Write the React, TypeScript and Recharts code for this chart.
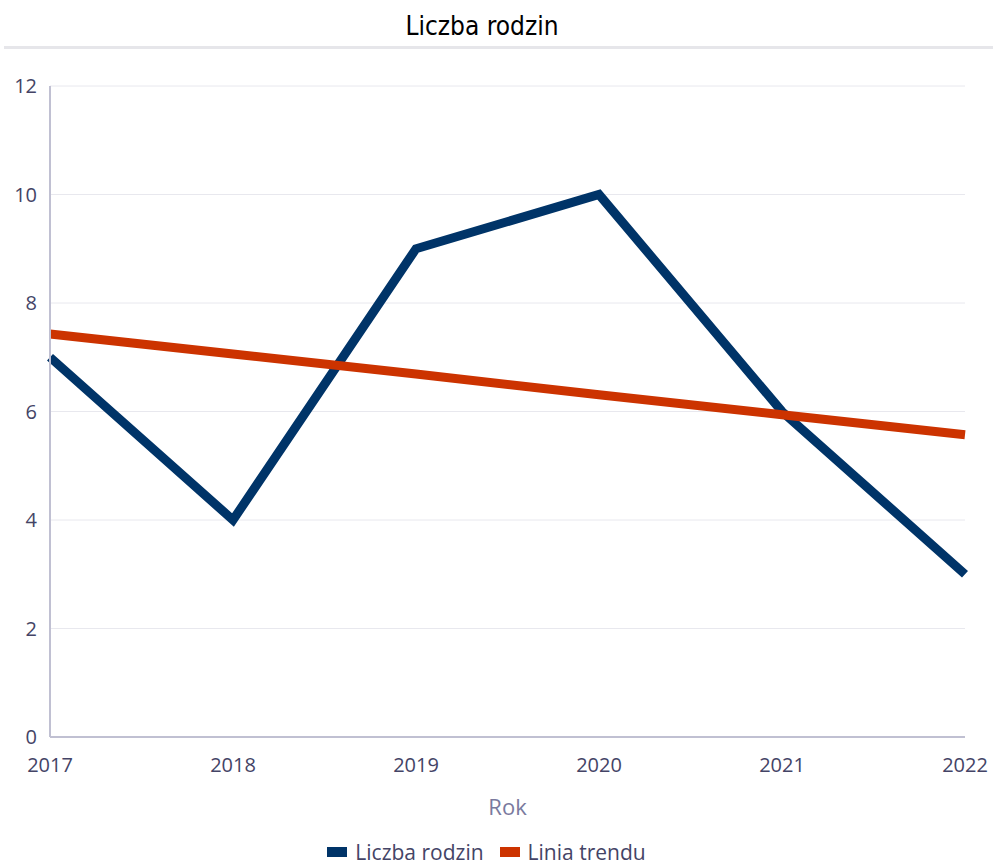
import { LineChart, Line, XAxis, YAxis, CartesianGrid, Legend } from 'recharts';

const years = ['2017', '2018', '2019', '2020', '2021', '2022'];
const families = [7, 4, 9, 10, 6, 3];
const trend = [7.43, 7.06, 6.69, 6.31, 5.94, 5.57];
const yTicks = [0, 2, 4, 6, 8, 10, 12];

const NAVY = '#003468';
const ORANGE = '#cc3300';
const FONT = '"Open Sans", "Noto Sans", sans-serif';

const data = years.map((year, i) => ({ year, families: families[i], trend: trend[i] }));

const LegendContent = () => (
  <div
    style={{
      height: 40,
      display: 'flex',
      justifyContent: 'center',
      alignItems: 'flex-end',
      gap: 16,
      fontFamily: FONT,
      fontSize: 21,
      lineHeight: '26px',
      color: '#444466',
      paddingLeft: 8,
      boxSizing: 'border-box',
    }}
  >
    {[
      { name: 'Liczba rodzin', color: NAVY },
      { name: 'Linia trendu', color: ORANGE },
    ].map((item) => (
      <span key={item.name} style={{ display: 'flex', alignItems: 'center', gap: 8 }}>
        <span style={{ display: 'inline-block', width: 20, height: 10, background: item.color }} />
        {item.name}
      </span>
    ))}
  </div>
);

export default function App() {
  return (
    <div style={{ position: 'absolute', left: 0, top: 0, width: 993, height: 865, background: '#fff' }}>
      <div
        style={{
          position: 'absolute',
          top: 11,
          left: 0,
          width: 964,
          textAlign: 'center',
          fontFamily: '"Liberation Sans Narrow", "DejaVu Sans Condensed", sans-serif',
          fontSize: 26,
          color: '#000',
        }}
      >
        Liczba rodzin
      </div>
      <div style={{ position: 'absolute', top: 46, left: 4, width: 989, height: 3, background: '#e6e6ea' }} />
      <LineChart width={993} height={865} data={data} margin={{ top: 86, right: 28, left: 0, bottom: 0 }}>
        <CartesianGrid vertical={false} stroke="#e8e8ee" />
        <XAxis
          dataKey="year"
          height={88}
          tickLine={false}
          axisLine={{ stroke: '#c0c0d2', strokeWidth: 2 }}
          tick={{ fill: '#444466', fontSize: 20, fontFamily: FONT }}
          tickMargin={15}
          interval={0}
          label={{ value: 'Rok', position: 'insideBottom', offset: 10, fill: '#7a7a9e', fontSize: 22, fontFamily: FONT }}
        />
        <YAxis
          width={50}
          domain={[0, 12]}
          ticks={yTicks}
          tickLine={false}
          axisLine={{ stroke: '#c0c0d2', strokeWidth: 2 }}
          tick={{ fill: '#444466', fontSize: 20, fontFamily: FONT }}
          tickMargin={7}
        />
        <Legend verticalAlign="bottom" content={<LegendContent />} />
        <Line
          dataKey="families"
          name="Liczba rodzin"
          stroke={NAVY}
          strokeWidth={9}
          dot={false}
          isAnimationActive={false}
        />
        <Line
          dataKey="trend"
          name="Linia trendu"
          stroke={ORANGE}
          strokeWidth={9}
          dot={false}
          isAnimationActive={false}
        />
      </LineChart>
    </div>
  );
}
